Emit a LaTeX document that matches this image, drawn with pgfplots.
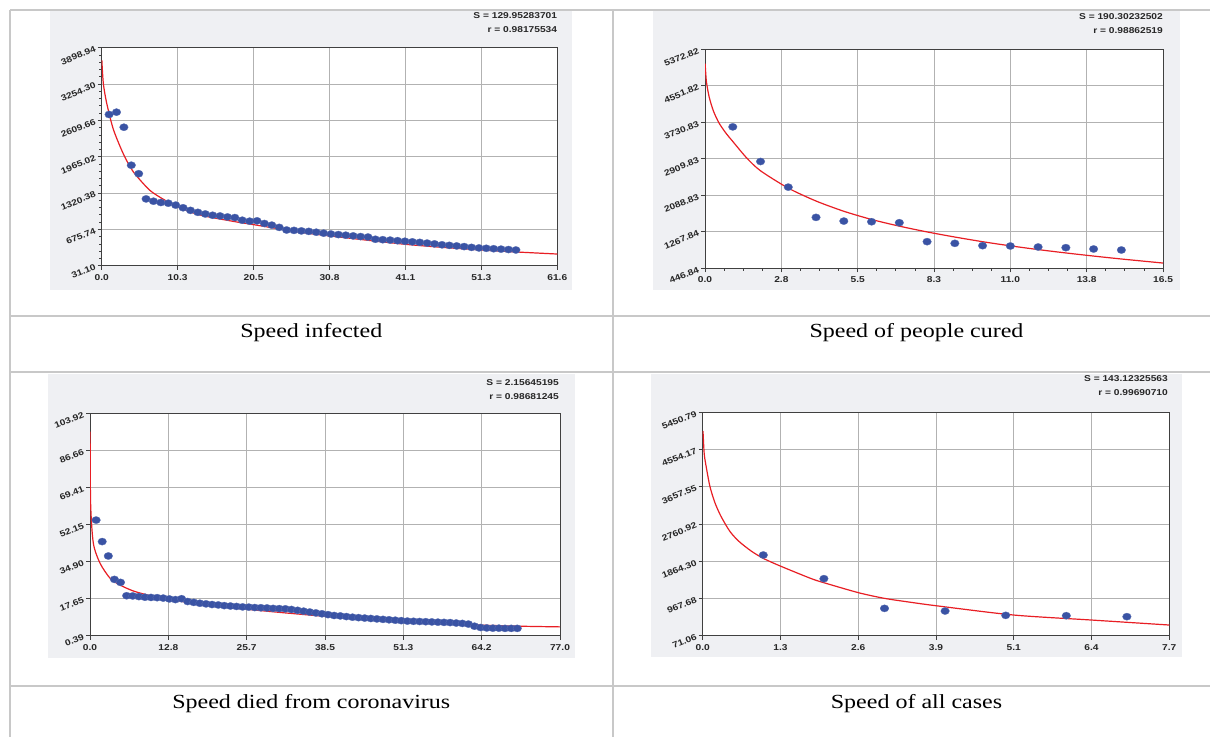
\documentclass[border=0pt]{standalone}
\usepackage{fontspec}
\setmainfont{Liberation Serif}
\newfontfamily\arial{Liberation Sans}
\usepackage{graphicx}
\usepackage{pgfplots}
\pgfplotsset{compat=1.18}
\definecolor{panelgray}{RGB}{239,240,243}
\definecolor{dotblue}{RGB}{58,83,164}
\definecolor{fitred}{RGB}{232,30,36}
\definecolor{bordergray}{RGB}{200,200,200}
\newcommand\tickfont{\arial\bfseries\fontsize{8.5}{10}\selectfont}
\newcommand\capfont{\fontsize{20}{24}\selectfont}
\newcommand\sx[1]{\scalebox{1.2}[1]{#1}}
\pgfplotsset{
  panel/.style={
    scale only axis,
    axis background/.style={fill=white},
    tick align=outside,
    major tick length=4pt, minor tick length=2.5pt,
    xtick pos=bottom, ytick pos=left,
    grid=major,
    major grid style={black!30, line width=0.9pt},
    axis line style={black!75, line width=1pt},
    every tick/.style={black!75, line width=0.7pt},
    minor x tick num=3, minor y tick num=4,
    scaled ticks=false,
    xticklabel style={font=\tickfont, text=black!85, yshift=-1pt},
    yticklabel style={font=\tickfont, text=black!85, rotate=22, anchor=east, xshift=1pt},
  },
  dots/.style={only marks, mark=*, mark size=3.6pt,
    mark options={fill=dotblue, draw=dotblue!85!white, line width=0.3pt, xscale=1.2}},
  fit/.style={fitred, line width=1.2pt, no marks, smooth, tension=0.45},
}
\begin{document}
\begin{tikzpicture}[x=1pt,y=1pt]
\useasboundingbox (0,0) rectangle (1210,737);
% table borders
\fill[white] (0,0) rectangle (1210,737);
\draw[bordergray, line width=1.6pt] (10,727) -- (1210,727);
\draw[bordergray, line width=1.6pt] (10,421) -- (1210,421);
\draw[bordergray, line width=1.6pt] (10,365) -- (1210,365);
\draw[bordergray, line width=1.6pt] (10,51) -- (1210,51);
\draw[bordergray, line width=1.6pt] (10,727) -- (10,0);
\draw[bordergray, line width=1.6pt] (613,727) -- (613,0);
% panels
\fill[panelgray] (50,447) rectangle (572,726);
\fill[panelgray] (653,447) rectangle (1180,726);
\fill[panelgray] (48,79) rectangle (575,363);
\fill[panelgray] (651,80) rectangle (1182,363);
% captions
\node[font=\capfont, anchor=base] at (311.3,399) {\scalebox{1.2}[1]{Speed infected}};
\node[font=\capfont, anchor=base] at (916.5,399) {\scalebox{1.2}[1]{Speed of people cured}};
\node[font=\capfont, anchor=base] at (311.3,29) {\scalebox{1.2}[1]{Speed died from coronavirus}};
\node[font=\capfont, anchor=base] at (916.5,29) {\scalebox{1.2}[1]{Speed of all cases}};
% S and r statistics
\node[anchor=east, font=\tickfont, text=black!85, inner sep=0pt] at (557.3,721.5) {\sx{S = 129.95283701}};
\node[anchor=east, font=\tickfont, text=black!85, inner sep=0pt] at (557.3,707) {\sx{r = 0.98175534}};
\node[anchor=east, font=\tickfont, text=black!85, inner sep=0pt] at (1163,720) {\sx{S = 190.30232502}};
\node[anchor=east, font=\tickfont, text=black!85, inner sep=0pt] at (1163,706) {\sx{r = 0.98862519}};
\node[anchor=east, font=\tickfont, text=black!85, inner sep=0pt] at (559,354) {\sx{S = 2.15645195}};
\node[anchor=east, font=\tickfont, text=black!85, inner sep=0pt] at (559,340) {\sx{r = 0.98681245}};
\node[anchor=east, font=\tickfont, text=black!85, inner sep=0pt] at (1168,358) {\sx{S = 143.12325563}};
\node[anchor=east, font=\tickfont, text=black!85, inner sep=0pt] at (1168,344) {\sx{r = 0.99690710}};

% ---------- Chart 1: Speed infected ----------
\begin{axis}[panel, at={(101.7pt,471.3pt)}, anchor=south west,
  width=455.6pt, height=218pt,
  xmin=0, xmax=61.6, ymin=31.10, ymax=3898.94,
  xtick={0,10.2667,20.5333,30.8,41.0667,51.3333,61.6},
  xticklabels={\sx{0.0},\sx{10.3},\sx{20.5},\sx{30.8},\sx{41.1},\sx{51.3},\sx{61.6}},
  ytick={31.10,675.74,1320.38,1965.02,2609.66,3254.30,3898.94},
  yticklabels={\sx{31.10},\sx{675.74},\sx{1320.38},\sx{1965.02},\sx{2609.66},\sx{3254.30},\sx{3898.94}},
]
\addplot[dots] coordinates {
(1,2714) (2,2755) (3,2488) (4,1814) (5,1663) (6,1216) (7,1175) (8,1152) (9,1140) (10,1106)
(11,1059) (12,1013) (13,978) (14,949) (15,926) (16,914) (17,896) (18,885) (19,838) (20,821)
(21,827) (22,780) (23,751) (24,711) (25,664) (26,658) (27,648) (28,640) (29,625) (30,608)
(31,593) (32,583) (33,572) (34,560) (35,548) (36,540) (37,500) (38,492) (39,485) (40,475)
(41,465) (42,455) (43,445) (44,432) (45,418) (46,402) (47,392) (48,382) (49,370) (50,356)
(51,346) (52,340) (53,332) (54,325) (55,318) (56,310)
};
\addplot[fit] coordinates {
(0.02,3680) (0.22,3266) (0.67,2918) (1.57,2453) (2.92,2017) (4.27,1698) (6.53,1367)
(8.79,1175) (10.3,1071) (13.3,930) (17.9,815) (20.5,760) (26.8,625) (30.8,560)
(36,482) (41.1,410) (46,357) (51.3,310) (56,275) (61.6,238)
};
\end{axis}

% ---------- Chart 2: Speed of people cured ----------
\begin{axis}[panel, at={(705pt,468.7pt)}, anchor=south west,
  width=458pt, height=219pt,
  xmin=0, xmax=16.5, ymin=446.84, ymax=5372.82,
  xtick={0,2.75,5.5,8.25,11,13.75,16.5},
  xticklabels={\sx{0.0},\sx{2.8},\sx{5.5},\sx{8.3},\sx{11.0},\sx{13.8},\sx{16.5}},
  ytick={446.84,1267.84,2088.83,2909.83,3730.83,4551.82,5372.82},
  yticklabels={\sx{446.84},\sx{1267.84},\sx{2088.83},\sx{2909.83},\sx{3730.83},\sx{4551.82},\sx{5372.82}},
]
\addplot[dots] coordinates {
(1,3628) (2,2849) (3,2273) (4,1592) (5,1509) (6,1494) (7,1472) (8,1046)
(9,1008) (10,956) (11,948) (12,926) (13,911) (14,881) (15,858)
};
\addplot[fit] coordinates {
(0.005,5050) (0.05,4650) (0.15,4300) (0.3,3990) (0.5,3720) (0.75,3490) (1,3300)
(1.5,2930) (2,2640) (3,2250) (4,1960) (5,1730) (6,1545) (7,1395) (8,1265) (9,1150)
(10,1045) (11,952) (12,868) (13,792) (14,722) (15,656) (16.5,565)
};
\end{axis}

% ---------- Chart 3: Speed died from coronavirus ----------
\begin{axis}[panel, at={(90pt,101.3pt)}, anchor=south west,
  width=470pt, height=222.4pt,
  xmin=0, xmax=77, ymin=0.39, ymax=103.92,
  xtick={0,12.8333,25.6667,38.5,51.3333,64.1667,77},
  xticklabels={\sx{0.0},\sx{12.8},\sx{25.7},\sx{38.5},\sx{51.3},\sx{64.2},\sx{77.0}},
  ytick={0.39,17.65,34.90,52.15,69.41,86.66,103.92},
  yticklabels={\sx{0.39},\sx{17.65},\sx{34.90},\sx{52.15},\sx{69.41},\sx{86.66},\sx{103.92}},
]
\addplot[dots] coordinates {
(1,54.2) (2,44.2) (3,37.5) (4,26.6) (5,25.2) (6,19.0) (7,18.9) (8,18.6) (9,18.3) (10,18.2)
(11,18.1) (12,17.9) (13,17.5) (14,17.2) (15,17.6) (16,16.3) (17,15.9) (18,15.5) (19,15.2) (20,14.9)
(21,14.7) (22,14.4) (23,14.2) (24,14.0) (25,13.8) (26,13.7) (27,13.5) (28,13.4) (29,13.3) (30,13.1)
(31,13.0) (32,12.9) (33,12.6) (34,12.2) (35,11.8) (36,11.4) (37,11.0) (38,10.6) (39,10.2) (40,9.8)
(41,9.6) (42,9.3) (43,9.0) (44,8.8) (45,8.6) (46,8.4) (47,8.2) (48,8.0) (49,7.8) (50,7.6)
(51,7.4) (52,7.2) (53,7.1) (54,7.0) (55,6.9) (56,6.8) (57,6.7) (58,6.6) (59,6.5) (60,6.3)
(61,6.1) (62,5.8) (63,4.8) (64,4.2) (65,4.0) (66,3.9) (67,3.9) (68,3.8) (69,3.8) (70,3.8)
};
\addplot[fit] coordinates {
(0.02,95.4) (0.1,62.0) (0.55,43.4) (1.65,34.1) (3.3,27.1) (4.9,24.0) (7.1,21.2) (9.9,19.0)
(12.8,17.4) (18.1,15.0) (25.7,12.7) (32,11.0) (38.5,9.4) (45,8.0) (51.3,6.9) (57.7,6.0)
(64.2,5.3) (70.6,4.8) (77,4.5)
};
\end{axis}

% ---------- Chart 4: Speed of all cases ----------
\begin{axis}[panel, at={(702.7pt,101.3pt)}, anchor=south west,
  width=466.6pt, height=223.4pt,
  xmin=0, xmax=7.7, ymin=71.06, ymax=5450.79,
  xtick={0,1.28333,2.56667,3.85,5.13333,6.41667,7.7},
  xticklabels={\sx{0.0},\sx{1.3},\sx{2.6},\sx{3.9},\sx{5.1},\sx{6.4},\sx{7.7}},
  ytick={71.06,967.68,1864.30,2760.92,3657.55,4554.17,5450.79},
  yticklabels={\sx{71.06},\sx{967.68},\sx{1864.30},\sx{2760.92},\sx{3657.55},\sx{4554.17},\sx{5450.79}},
]
\addplot[dots] coordinates {
(1,2014) (2,1444) (3,729) (4,665) (5,561) (6,553) (7,529)
};
\addplot[fit] coordinates {
(0.005,5000) (0.025,4450) (0.06,4120) (0.12,3660) (0.2,3280) (0.3,2950) (0.45,2580)
(0.6,2340) (0.8,2110) (1.0,1933) (1.28,1749) (1.78,1452) (2.0,1347) (2.57,1107)
(3.0,970) (3.44,874) (3.85,793) (5.13,569) (6.42,448) (7.7,328)
};
\end{axis}
\end{tikzpicture}
\end{document}
